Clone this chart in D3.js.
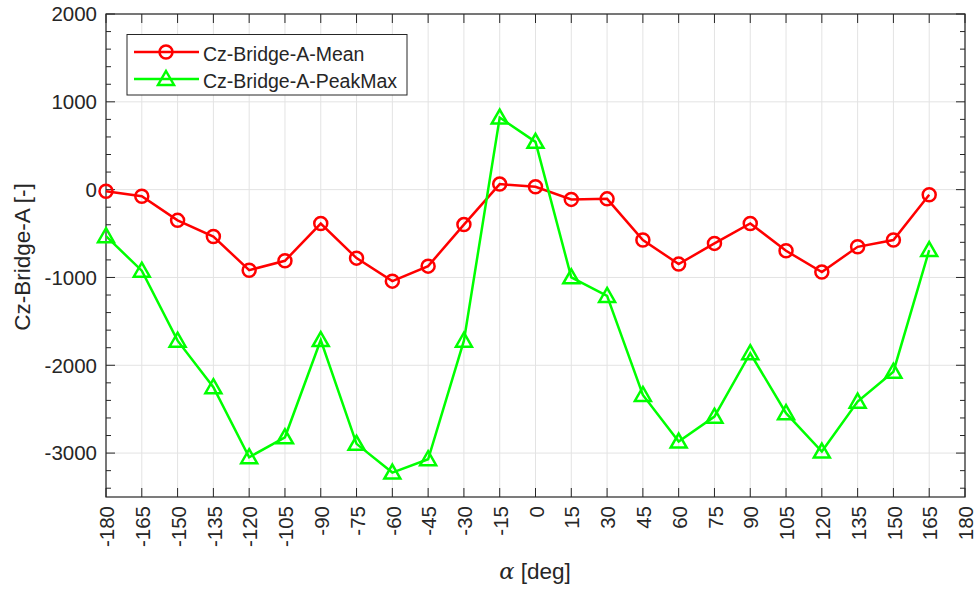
<!DOCTYPE html>
<html><head><meta charset="utf-8">
<script src="https://cdn.jsdelivr.net/npm/d3@7"></script>
<style>body{margin:0;background:#fff}svg{display:block}text{font-family:"Liberation Sans",Arial,sans-serif;fill:#262626}</style>
</head><body><svg id="c" width="979" height="590"></svg>
<script>
const angles = [-180,-165,-150,-135,-120,-105,-90,-75,-60,-45,-30,-15,0,15,30,45,60,75,90,105,120,135,150,165];
const meanVals = [-19,-76,-350,-534,-917,-810,-386,-780,-1042,-871,-398,63,32,-111,-105,-574,-848,-612,-385,-696,-939,-651,-574,-59];
const peakVals = [-530,-923,-1720,-2250,-3047,-2820,-1713,-2895,-3222,-3070,-1720,821,544,-999,-1210,-2338,-2869,-2585,-1863,-2545,-2983,-2414,-2073,-688];
const xTicks = d3.range(-180,181,15);
const yTicks = [-3000,-2000,-1000,0,1000,2000];
const seriesNames = ["Cz-Bridge-A-Mean","Cz-Bridge-A-PeakMax"];

const svg = d3.select("#c");
const L=106,R=965,T=14,B=497;
const x = d3.scaleLinear().domain([-180,180]).range([L,R]);
const y = d3.scaleLinear().domain([-3500,2000]).range([B,T]);
const g = svg.append("g");
// grid
g.selectAll(".gx").data(xTicks).join("line").attr("x1",d=>x(d)).attr("x2",d=>x(d)).attr("y1",T).attr("y2",B).attr("stroke","#e3e3e3").attr("stroke-width",1);
g.selectAll(".gy").data(yTicks).join("line").attr("y1",d=>y(d)).attr("y2",d=>y(d)).attr("x1",L).attr("x2",R).attr("stroke","#e3e3e3").attr("stroke-width",1);
// ticks
const minor = d3.range(-3400,2000,200).filter(v=>v%1000!==0);
const tk = svg.append("g").attr("stroke","#262626").attr("stroke-width",1);
xTicks.forEach(v=>{tk.append("line").attr("x1",x(v)).attr("x2",x(v)).attr("y1",B).attr("y2",B-9);tk.append("line").attr("x1",x(v)).attr("x2",x(v)).attr("y1",T).attr("y2",T+9);});
yTicks.forEach(v=>{tk.append("line").attr("y1",y(v)).attr("y2",y(v)).attr("x1",L).attr("x2",L+9);tk.append("line").attr("y1",y(v)).attr("y2",y(v)).attr("x1",R).attr("x2",R-9);});
minor.forEach(v=>{tk.append("line").attr("y1",y(v)).attr("y2",y(v)).attr("x1",L).attr("x2",L+5);tk.append("line").attr("y1",y(v)).attr("y2",y(v)).attr("x1",R).attr("x2",R-5);});
svg.append("rect").attr("x",L).attr("y",T).attr("width",R-L).attr("height",B-T).attr("fill","none").attr("stroke","#262626").attr("stroke-width",1.2);
// tick labels
svg.selectAll(".yl").data(yTicks).join("text").attr("x",L-9).attr("y",d=>y(d)).attr("dy","0.36em").attr("text-anchor","end").attr("font-size",20.5).text(d=>d);
svg.selectAll(".xl").data(xTicks).join("text").attr("transform",d=>`translate(${x(d)},${B+9}) rotate(-90)`).attr("dy","0.4em").attr("text-anchor","end").attr("font-size",20.5).text(d=>d);
// axis labels
svg.append("text").attr("transform","translate(30,257) rotate(-90)").attr("text-anchor","middle").attr("font-size",22.5).text("Cz-Bridge-A [-]");
const xl = svg.append("text").attr("x",535).attr("y",579).attr("text-anchor","middle").attr("font-size",22.5);
xl.append("tspan").attr("font-style","italic").attr("font-family","'DejaVu Serif',serif").text("α");
xl.append("tspan").text(" [deg]");
// lines
const line = d3.line().x((d,i)=>x(angles[i])).y(d=>y(d));
svg.append("path").datum(meanVals).attr("d",line).attr("fill","none").attr("stroke","#ff0000").attr("stroke-width",2.5);
svg.append("path").datum(peakVals).attr("d",line).attr("fill","none").attr("stroke","#00ff00").attr("stroke-width",2.5);
svg.selectAll(".mc").data(meanVals).join("circle").attr("cx",(d,i)=>x(angles[i])).attr("cy",d=>y(d)).attr("r",6.5).attr("fill","none").attr("stroke","#ff0000").attr("stroke-width",2.5);
const tri = (cx,cy)=>`M${cx},${cy-8}L${cx+8},${cy+6}L${cx-8},${cy+6}Z`;
svg.selectAll(".mt").data(peakVals).join("path").attr("d",(d,i)=>tri(x(angles[i]),y(d))).attr("fill","none").attr("stroke","#00ff00").attr("stroke-width",2.5);
// legend
const lg = svg.append("g");
lg.append("rect").attr("x",127).attr("y",34.5).attr("width",280).attr("height",60.5).attr("fill","#fff").attr("stroke","#262626").attr("stroke-width",1);
lg.append("line").attr("x1",134).attr("x2",199).attr("y1",52).attr("y2",52).attr("stroke","#ff0000").attr("stroke-width",2.5);
lg.append("circle").attr("cx",166).attr("cy",52).attr("r",6.5).attr("fill","none").attr("stroke","#ff0000").attr("stroke-width",2.5);
lg.append("line").attr("x1",134).attr("x2",199).attr("y1",79).attr("y2",79).attr("stroke","#00ff00").attr("stroke-width",2.5);
lg.append("path").attr("d",tri(166,79)).attr("fill","none").attr("stroke","#00ff00").attr("stroke-width",2.5);
lg.append("text").attr("x",203).attr("y",54).attr("dy","0.35em").attr("font-size",19.5).attr("fill","#000").text(seriesNames[0]);
lg.append("text").attr("x",203).attr("y",81).attr("dy","0.35em").attr("font-size",19.5).attr("fill","#000").text(seriesNames[1]);
</script></body></html>
